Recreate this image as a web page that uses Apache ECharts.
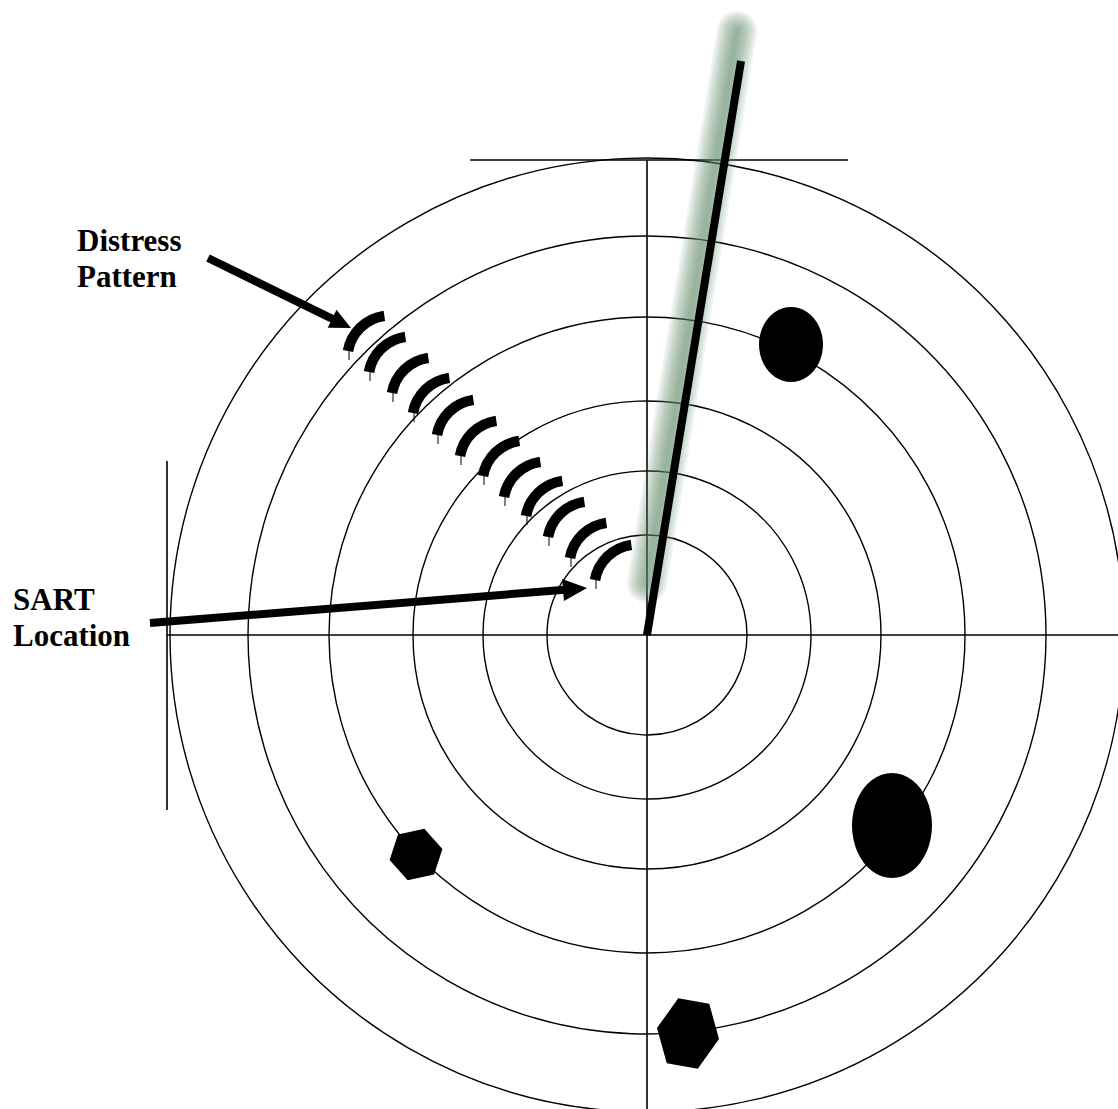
<!DOCTYPE html>
<html>
<head>
<meta charset="utf-8">
<script src="https://cdn.jsdelivr.net/npm/echarts@6/dist/echarts.min.js"></script>
<style>
html,body{margin:0;padding:0;background:#ffffff;}
#chart{width:1118px;height:1109px;}
</style>
</head>
<body>
<div id="chart"></div>
<script>
// ---- data (units: radar display units, origin = own ship) ----
const ringRadii = [100, 164, 234, 318, 399, 477];
// heading / range marker segments [x1, y1, x2, y2]
const crossSegments = [
  [0, 475, 0, -474],
  [-480, 0, 471, 0],
  [-177, 475, 201, 475],
  [-480, 174, -480, -175]
];
const sweepLine = [0, 0, 94, 574];
const sweepAfterglow = [90, 604, 0, 52];
// SART distress echoes (lower-left end of each arc)
const distressEchoesX = [-299, -278, -255, -234, -210, -187, -164, -143, -121, -99, -77, -52];
const distressEchoesY = [284, 263, 242, 222, 200, 179, 159, 138, 119, 98, 77, 55];
// ship targets: [x, y, rx, ry]
const ellipseTargets = [
  [144, 290.5, 32, 37.5],
  [245, -190.5, 40, 52.5]
];
// hexagonal targets: [x, y, rx, ry, rotationDeg]
const hexTargets = [
  [-231, -219.5, 27, 27, -12],
  [41, -398.5, 31.5, 38, 10]
];
// annotation arrows: [tailX, tailY, tipX, tipY]
const annotationArrows = [
  [-439, 377, -296, 307],
  [-497, 12, -60, 47]
];
const labelTexts = ['Distress', 'Pattern', 'SART', 'Location'];
const labelX = [-570, -570, -634, -634];
const labelY = [394.5, 358.5, 35.5, -0.5];

const chart = echarts.init(document.getElementById('chart'), null, {renderer: 'svg'});

const option = {
  animation: false,
  backgroundColor: '#ffffff',
  grid: {left: 0, right: 0, top: 0, bottom: 0},
  xAxis: {type: 'value', min: -647, max: 471, show: false},
  yAxis: {type: 'value', min: -474, max: 635, show: false},
  series: [
    {
      type: 'custom', silent: true, z: 1,
      data: ringRadii.map(r => [0, 0, r]),
      renderItem: (params, api) => {
        const c = api.coord([api.value(0), api.value(1)]);
        const r = api.size([api.value(2), 0])[0];
        return {type: 'circle', shape: {cx: c[0], cy: c[1], r: r},
          style: {fill: 'none', stroke: '#000', lineWidth: 1.4}};
      }
    },
    {
      type: 'custom', silent: true, z: 2,
      data: crossSegments,
      renderItem: (params, api) => {
        const a = api.coord([api.value(0), api.value(1)]);
        const b = api.coord([api.value(2), api.value(3)]);
        return {type: 'line', shape: {x1: a[0], y1: a[1], x2: b[0], y2: b[1]},
          style: {stroke: '#000', lineWidth: 1.6}};
      }
    },
    {
      type: 'custom', silent: true, z: 3,
      data: [sweepAfterglow],
      renderItem: (params, api) => {
        const a = api.coord([api.value(0), api.value(1)]);
        const b = api.coord([api.value(2), api.value(3)]);
        const widths = [40, 36, 32, 28, 24, 20, 16, 12, 8, 4];
        return {type: 'group', children: widths.map(w => ({
          type: 'line', shape: {x1: a[0], y1: a[1], x2: b[0], y2: b[1]},
          style: {stroke: 'rgba(95,135,110,0.095)', lineWidth: w, lineCap: 'round'}
        }))};
      }
    },
    {
      type: 'custom', silent: true, z: 4,
      data: [sweepLine],
      renderItem: (params, api) => {
        const a = api.coord([api.value(0), api.value(1)]);
        const b = api.coord([api.value(2), api.value(3)]);
        return {type: 'line', shape: {x1: a[0], y1: a[1], x2: b[0], y2: b[1]},
          style: {stroke: '#000', lineWidth: 8, lineCap: 'butt'}};
      }
    },
    {
      type: 'custom', silent: true, z: 5,
      data: distressEchoesX.map((x, i) => [x, distressEchoesY[i]]),
      renderItem: (params, api) => {
        const p = api.coord([api.value(0), api.value(1)]);
        const R = 43;
        const a0 = 190 * Math.PI / 180, a1 = 262 * Math.PI / 180;
        const cx = p[0] - R * Math.cos(a0), cy = p[1] - R * Math.sin(a0);
        return {type: 'group', children: [
          {type: 'arc', shape: {cx: cx, cy: cy, r: R, startAngle: a0, endAngle: a1, clockwise: true},
            style: {fill: 'none', stroke: '#000', lineWidth: 10.5, lineCap: 'butt'}},
          {type: 'line', shape: {x1: p[0] + 1, y1: p[1], x2: p[0] + 1, y2: p[1] + 9},
            style: {stroke: '#000', lineWidth: 1}}
        ]};
      }
    },
    {
      type: 'custom', silent: true, z: 6,
      data: ellipseTargets,
      renderItem: (params, api) => {
        const c = api.coord([api.value(0), api.value(1)]);
        const rx = api.size([api.value(2), 0])[0];
        const ry = api.size([0, api.value(3)])[1];
        return {type: 'circle', x: c[0], y: c[1], scaleY: ry / rx,
          shape: {cx: 0, cy: 0, r: rx}, style: {fill: '#000', stroke: null}};
      }
    },
    {
      type: 'custom', silent: true, z: 6,
      data: hexTargets,
      renderItem: (params, api) => {
        const c = api.coord([api.value(0), api.value(1)]);
        const rx = api.size([api.value(2), 0])[0];
        const ry = api.size([0, api.value(3)])[1];
        const rot = api.value(4) * Math.PI / 180;
        const pts = [];
        for (let i = 0; i < 6; i++) {
          const t = i * Math.PI / 3;
          const lx = rx * Math.cos(t), ly = ry * Math.sin(t);
          pts.push([c[0] + lx * Math.cos(rot) - ly * Math.sin(rot),
                    c[1] + lx * Math.sin(rot) + ly * Math.cos(rot)]);
        }
        return {type: 'polygon', shape: {points: pts}, style: {fill: '#000', stroke: null}};
      }
    },
    {
      type: 'custom', silent: true, z: 7,
      data: annotationArrows,
      renderItem: (params, api) => {
        const a = api.coord([api.value(0), api.value(1)]);
        const b = api.coord([api.value(2), api.value(3)]);
        const dx = b[0] - a[0], dy = b[1] - a[1];
        const len = Math.sqrt(dx * dx + dy * dy);
        const ux = dx / len, uy = dy / len;
        const L = params.dataIndex === 0 ? 21 : 24;
        const W = params.dataIndex === 0 ? 10 : 11;
        const bx = b[0] - ux * L, by = b[1] - uy * L;
        return {type: 'group', children: [
          {type: 'line', shape: {x1: a[0], y1: a[1], x2: bx + ux * 2, y2: by + uy * 2},
            style: {stroke: '#000', lineWidth: 8, lineCap: 'butt'}},
          {type: 'polygon', shape: {points: [
            [b[0], b[1]], [bx - uy * W, by + ux * W], [bx + uy * W, by - ux * W]
          ]}, style: {fill: '#000', stroke: null}}
        ]};
      }
    },
    {
      type: 'custom', silent: true, z: 8,
      data: labelTexts.map((t, i) => [labelX[i], labelY[i], i]),
      renderItem: (params, api) => {
        const p = api.coord([api.value(0), api.value(1)]);
        return {type: 'text', x: p[0], y: p[1], style: {
          text: labelTexts[params.dataIndex],
          font: 'bold 31px "Liberation Serif", "Times New Roman", serif',
          fill: '#000', align: 'left', verticalAlign: 'middle'
        }};
      }
    }
  ]
};
chart.setOption(option);
</script>
</body>
</html>
